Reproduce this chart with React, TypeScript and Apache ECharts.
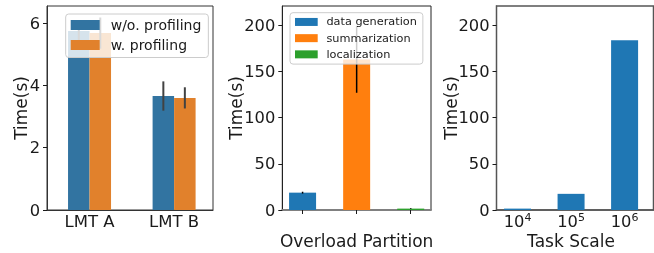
import React, { useEffect, useRef } from "react";
import * as echarts from "echarts";

// Panel 1: LMT comparison
const lmtCategories = ["LMT A", "LMT B"];
const withoutProfiling = [5.75, 3.66];
const withoutProfilingErr = [0.3, 0.47];
const withProfiling = [5.68, 3.6];
const withProfilingErr = [0.5, 0.34];

// Panel 2: Overload Partition
const partitionNames = ["data generation", "summarization", "localization"];
const partitionValues = [18.8, 163, 1.5];
const partitionErr = [1.0, 36, 0.4];

// Panel 3: Task Scale
const scaleExponents = ["4", "5", "6"];
const scaleValues = [1.5, 17.5, 184];

const yTicks1 = [0, 2, 4, 6];
const yTicks2 = [0, 50, 100, 150, 200];
const yMax1 = 6.55;
const yMax2 = 221;

const FONT = "DejaVu Sans";
const TEXT = "#1a1a1a";
const C_BLUE_D = "#3274a1";
const C_ORANGE_D = "#e1812c";
const C_BLUE = "#1f77b4";
const C_ORANGE = "#ff7f0e";
const C_GREEN = "#2ca02c";

export default function App() {
  const ref = useRef<HTMLDivElement>(null);
  useEffect(() => {
    if (!ref.current) return;
    const chart = echarts.init(ref.current, undefined, { renderer: "svg" });

    const bw1 = 21.5;
    const errSeries = (
      xAxisIndex: number,
      yAxisIndex: number,
      data: number[][],
      offset: number,
      color: string,
      width: number
    ) => ({
      type: "custom",
      xAxisIndex,
      yAxisIndex,
      z: 3,
      silent: true,
      data,
      renderItem: (_p: any, api: any) => {
        const x = api.value(0);
        const a = api.coord([x, api.value(1)]);
        const b = api.coord([x, api.value(2)]);
        return {
          type: "line",
          shape: { x1: a[0] + offset, y1: a[1], x2: b[0] + offset, y2: b[1] },
          style: { stroke: color, lineWidth: width },
        };
      },
    });

    const yAxisBase = (gridIndex: number, ticks: number[], max: number, nameGap: number, frame: string) => ({
      type: "value",
      gridIndex,
      position: "left",
      min: 0,
      max,
      name: "Time(s)",
      nameLocation: "middle",
      nameRotate: 90,
      nameGap,
      nameMoveOverlap: false,
      nameTextStyle: { fontFamily: FONT, fontSize: 17, color: TEXT },
      axisLine: { show: true, onZero: false, lineStyle: { color: frame, width: 1 } },
      axisTick: { show: true, inside: false, length: 4, customValues: ticks, lineStyle: { color: TEXT } },
      axisLabel: { fontFamily: FONT, fontSize: 16.3, color: TEXT, margin: 7, customValues: ticks },
      splitLine: { show: false },
    });

    const option: any = {
      animation: false,
      grid: [
        { left: 47, top: 6, width: 166, height: 204, show: true, borderColor: "#333", borderWidth: 1, outerBoundsMode: "none" },
        { left: 282.3, top: 6, width: 148.7, height: 204, show: true, borderColor: "#222", borderWidth: 1, outerBoundsMode: "none" },
        { left: 496.5, top: 6, width: 157, height: 204, show: true, borderColor: "#555", borderWidth: 1.5, outerBoundsMode: "none" },
      ],
      xAxis: [
        {
          type: "value",
          gridIndex: 0,
          position: "bottom",
          min: -0.503,
          max: 1.46,
          axisLine: { show: true, onZero: false, lineStyle: { color: "#333" } },
          axisTick: { show: false },
          splitLine: { show: false },
          axisLabel: {
            customValues: [0, 1],
            formatter: (v: number) => lmtCategories[Math.round(v)],
            fontFamily: FONT,
            fontSize: 16.5,
            color: TEXT,
            margin: 3,
          },
        },
        {
          type: "value",
          gridIndex: 1,
          position: "bottom",
          min: -0.375,
          max: 2.375,
          name: "Overload Partition",
          nameLocation: "middle",
          nameGap: 22,
          nameMoveOverlap: false,
          nameTextStyle: { fontFamily: FONT, fontSize: 17, color: TEXT },
          axisLine: { show: true, onZero: false, lineStyle: { color: "#808080", width: 2 } },
          axisTick: { show: true, customValues: [0, 1, 2], length: 4, lineStyle: { color: TEXT } },
          axisLabel: { show: false },
          splitLine: { show: false },
        },
        {
          type: "value",
          gridIndex: 2,
          position: "bottom",
          min: -0.393,
          max: 2.54,
          name: "Task Scale",
          nameLocation: "middle",
          nameGap: 22,
          nameMoveOverlap: false,
          nameTextStyle: { fontFamily: FONT, fontSize: 17, color: TEXT, padding: [0, 8, 0, 0] },
          axisLine: { show: true, onZero: false, lineStyle: { color: "#555", width: 1.5 } },
          axisTick: { show: false },
          splitLine: { show: false },
          axisLabel: {
            customValues: [0, 1, 2],
            formatter: (v: number) => "10{sup|" + scaleExponents[Math.round(v)] + "}",
            fontFamily: FONT,
            fontSize: 16.3,
            color: TEXT,
            margin: 2,
            rich: {
              sup: { fontFamily: FONT, fontSize: 11, color: TEXT, verticalAlign: "top", padding: [0, 0, 7, 0] },
            },
          },
        },
      ],
      yAxis: [
        yAxisBase(0, yTicks1, yMax1, 17.5, "#333"),
        yAxisBase(1, yTicks2, yMax2, 37.5, "#222"),
        yAxisBase(2, yTicks2, yMax2, 37, "#555"),
      ],
      legend: [
        {
          data: ["w/o. profiling", "w. profiling"],
          orient: "vertical",
          left: 65.7,
          top: 14,
          icon: "rect",
          itemWidth: 29,
          itemHeight: 10,
          itemGap: 3,
          padding: [2.5, 7, 4, 5],
          backgroundColor: "rgba(255,255,255,0.8)",
          borderColor: "#cccccc",
          borderWidth: 1,
          borderRadius: 3,
          textStyle: { fontFamily: FONT, fontSize: 14, color: TEXT, lineHeight: 17, padding: [0, 0, 0, 6] },
        },
        {
          data: partitionNames,
          orient: "vertical",
          left: 290,
          top: 12.7,
          icon: "rect",
          itemWidth: 22.7,
          itemHeight: 8,
          itemGap: 2.7,
          padding: [2.5, 6, 3, 5],
          backgroundColor: "rgba(255,255,255,0.8)",
          borderColor: "#cccccc",
          borderWidth: 1,
          borderRadius: 3,
          textStyle: { fontFamily: FONT, fontSize: 11.3, color: TEXT, lineHeight: 13.5, padding: [0, 0, 0, 3.7] },
        },
      ],
      series: [
        {
          name: "w/o. profiling",
          type: "bar",
          xAxisIndex: 0,
          yAxisIndex: 0,
          barWidth: bw1,
          barGap: "0%",
          itemStyle: { color: C_BLUE_D },
          data: withoutProfiling.map((v, i) => [i, v]),
        },
        {
          name: "w. profiling",
          type: "bar",
          xAxisIndex: 0,
          yAxisIndex: 0,
          barWidth: bw1,
          barGap: "0%",
          itemStyle: { color: C_ORANGE_D },
          data: withProfiling.map((v, i) => [i, v]),
        },
        errSeries(0, 0, withoutProfiling.map((v, i) => [i, v - withoutProfilingErr[i], v + withoutProfilingErr[i]]), -bw1 / 2, "#424242", 2),
        errSeries(0, 0, withProfiling.map((v, i) => [i, v - withProfilingErr[i], v + withProfilingErr[i]]), bw1 / 2, "#424242", 2),
        ...partitionNames.map((name, i) => ({
          name,
          type: "bar",
          xAxisIndex: 1,
          yAxisIndex: 1,
          barWidth: 27,
          barGap: "-100%",
          itemStyle: { color: [C_BLUE, C_ORANGE, C_GREEN][i] },
          data: [[i, partitionValues[i]]],
        })),
        errSeries(1, 1, partitionValues.map((v, i) => [i, v - partitionErr[i], v + partitionErr[i]]), 0, "#000", 1.5),
        {
          name: "Task Scale",
          type: "bar",
          xAxisIndex: 2,
          yAxisIndex: 2,
          barWidth: 27,
          itemStyle: { color: C_BLUE },
          data: scaleValues.map((v, i) => [i, v]),
        },
      ],
    };
    chart.setOption(option);
    return () => chart.dispose();
  }, []);
  return <div ref={ref} style={{ position: "fixed", left: 0, top: 0, width: 654, height: 253 }} />;
}
